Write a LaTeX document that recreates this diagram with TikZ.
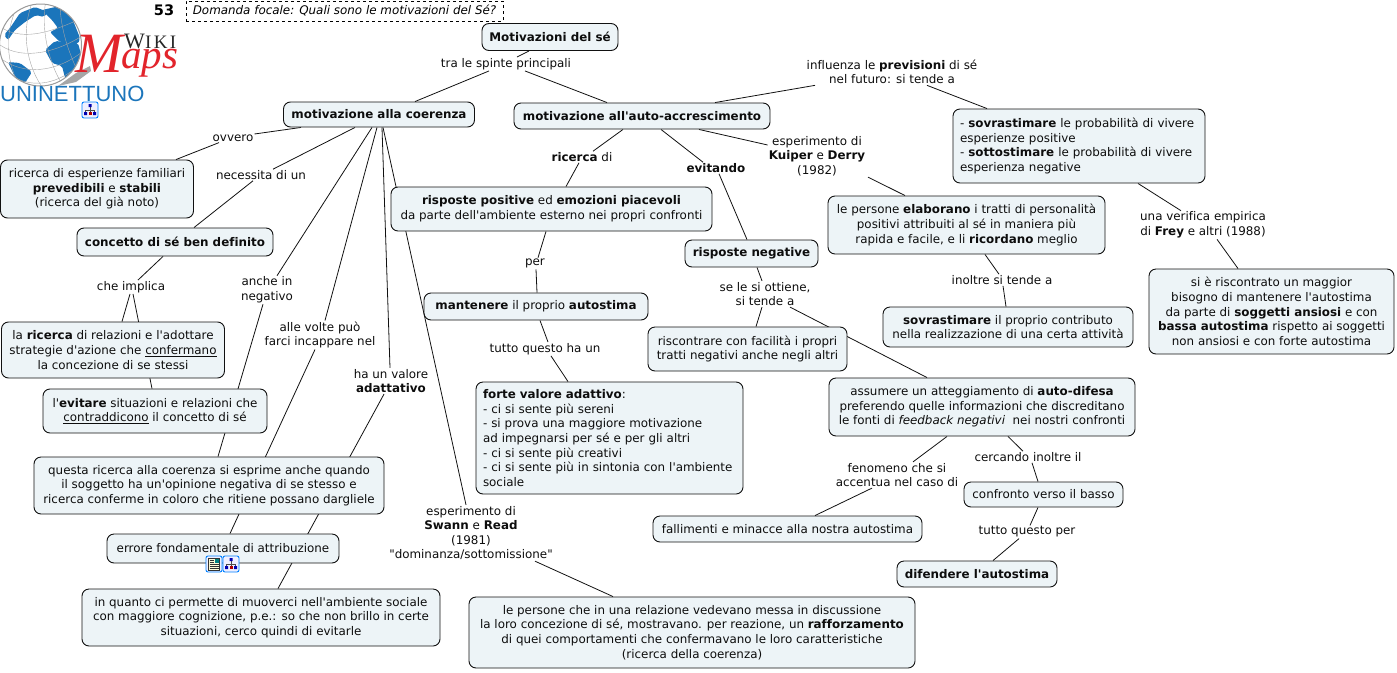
\documentclass[tikz,border=0pt]{standalone}
\usepackage{fontspec}
\setmainfont{DejaVu Sans}[Ligatures={TeXOff,NoCommon}]
\newfontfamily\logoserif{Liberation Serif}
\newfontfamily\logosans{Liberation Sans}
\usetikzlibrary{backgrounds,arrows.meta}
\definecolor{boxfill}{HTML}{EDF4F7}
\definecolor{boxline}{HTML}{111111}
\definecolor{logoblue}{HTML}{1B75BB}
\definecolor{logored}{HTML}{E2242B}
\tikzset{
	concept/.style={draw=boxline, fill=boxfill, line width=0.9pt, rounded corners=7pt, align=center, inner sep=2pt,
		font=\fontsize{11.9}{14.6}\selectfont, text=black!95},
	conceptleft/.style={concept, align=left, inner xsep=7pt},
	linklabel/.style={align=center, inner sep=1pt, font=\fontsize{11.9}{14.6}\selectfont, text=black!95},
	link/.style={draw=boxline, line width=0.8pt},
	treeicon/.pic={
		\draw[draw=blue!50!cyan, fill=blue!6, line width=0.9pt, rounded corners=2pt] (-8,-8) rectangle (8,8);
		\draw[black!70, line width=0.5pt] (0,-3) -- (0,0) (-4.5,2) -- (-4.5,0) -- (4.5,0) -- (4.5,2) (0,0) -- (0,2);
		\fill[blue!70!black] (-1.5,-6) rectangle (1.5,-3) (-6,2) rectangle (-3,5) (3,2) rectangle (6,5);
		\fill[red!70!black] (-1.5,2) rectangle (1.5,5);
	},
	sheeticon/.pic={
		\draw[draw=blue!50!cyan, fill=blue!6, line width=0.9pt, rounded corners=2pt] (-8,-8) rectangle (8,8);
		\draw[black!80, fill=yellow!15, line width=0.5pt] (-5.5,-6) rectangle (5.5,6);
		\fill[blue!50!green] (0.5,-5) rectangle (4.5,-1);
		\draw[black!80, line width=0.6pt] (-4.5,-4) -- (-0.5,-4) (-4.5,-2) -- (-0.5,-2) (-4.5,0) -- (4.5,0) (-4.5,2) -- (4.5,2) (-4.5,4) -- (4.5,4);
	}
}
\begin{document}
\begin{tikzpicture}[x=1pt, y=-1pt]
	\useasboundingbox (0,0) rectangle (1397,672);

	% Logo
	\fill[black!35] (58,86) -- (76,73) -- (90,66) -- (91,71) -- (76,82) -- cycle;
	\begin{scope}
		\clip (40.5,45) circle (41);
		\fill[white] (0,0) rectangle (82,88);
		\fill[logoblue, rounded corners=2pt] (10,28) -- (20,13) -- (35,7) -- (48,12) -- (44,17) -- (36,15) -- (25,22) -- (15,30) -- (8,40) -- (4,35) -- cycle;
		\fill[logoblue, rounded corners=2pt] (42,10) -- (60,6) -- (72,18) -- (80,38) -- (78,44) -- (60,42) -- (50,32) -- (58,28) -- (52,20) -- cycle;
		\fill[logoblue, rounded corners=2pt] (45,50) -- (55,41) -- (78,43) -- (82,58) -- (72,72) -- (65,78) -- (62,66) -- (52,63) -- cycle;
		\fill[logoblue, rounded corners=2pt] (8,62) -- (20,63) -- (32,72) -- (25,83) -- (15,77) -- cycle;
		\draw[black!35, line width=0.4pt] (22,-2) .. controls (2,30) and (6,65) .. (22,90) (34,-2) .. controls (20,30) and (26,65) .. (44,90) (46,0) .. controls (40,30) and (50,65) .. (62,84) (60,2) .. controls (60,30) and (70,55) .. (78,72);
		\draw[black!35, line width=0.4pt] (2,28) .. controls (25,42) and (55,30) .. (78,20) (0,45) .. controls (25,62) and (60,50) .. (82,36) (3,60) .. controls (30,78) and (62,68) .. (82,52) (12,76) .. controls (35,90) and (60,82) .. (78,66);
	\end{scope}
	\draw[black!40, line width=1pt] (40.5,45) circle (41);
	\node[inner sep=0pt, anchor=base west, text=logored, font=\logoserif\itshape\fontsize{57}{57}\selectfont] (logoM) at (75,72) {M};
	\node[inner sep=0pt, anchor=base west, text=logored, font=\logoserif\itshape\fontsize{41}{41}\selectfont] (logoaps) at (121,68) {aps};
	\node[inner sep=0pt, anchor=base west, text=black!85, font=\logoserif\fontsize{22}{22}\selectfont] (logoW) at (124,48) {W};
	\node[inner sep=0pt, anchor=base west, text=black!85, font=\logoserif\addfontfeature{LetterSpace=12}\fontsize{19}{19}\selectfont] (logoiki) at (145,48) {IKI};
	\node[inner sep=0pt, anchor=base west, text=logoblue, font=\logosans\fontsize{22}{22}\selectfont] (logouni) at (0,101) {UNINETTUNO};
	\pic at (90,110) {treeicon};

	% Title
	\node[inner sep=0pt, font=\bfseries\fontsize{14.5}{16}\selectfont] (number) at (164,10) {53};
	\node[draw, dashed, line width=0.7pt, minimum width=317pt, minimum height=20pt, inner sep=0pt, font=\itshape\fontsize{11.9}{14.6}\selectfont] (focal) at (344.5,11) {Domanda focale: Quali sono le motivazioni del Sé?};

	% Concepts
	\node[concept, minimum width=136pt, minimum height=27pt] (root) at (550,37) {\textbf{Motivazioni del sé}};
	\node[concept, minimum width=191pt, minimum height=25pt] (coerenza) at (379,114.5) {\textbf{motivazione alla coerenza}};
	\node[concept, minimum width=256pt, minimum height=26pt] (accresc) at (642,116) {\textbf{motivazione all'auto-accrescimento}};
	\node[conceptleft, text width=238pt, minimum height=74pt] (sovrastima) at (1079,146) {- \textbf{sovrastimare} le probabilità di vivere\\esperienze positive\\- \textbf{sottostimare} le probabilità di vivere\\esperienza negative};
	\node[concept, minimum width=245pt, minimum height=85pt] (ansiosi) at (1271.5,311.5) {si è riscontrato un maggior\\bisogno di mantenere l'autostima\\da parte di \textbf{soggetti ansiosi} e con\\\textbf{bassa autostima} rispetto ai soggetti\\non ansiosi e con forte autostima};
	\node[concept, minimum width=193pt, minimum height=58pt] (familiari) at (97,189) {ricerca di esperienze familiari\\\textbf{prevedibili} e \textbf{stabili}\\(ricerca del già noto)};
	\node[concept, minimum width=196pt, minimum height=28pt] (definito) at (175,242) {\textbf{concetto di sé ben definito}};
	\node[concept, minimum width=223pt, minimum height=56pt] (conferma) at (113,350) {la \textbf{ricerca} di relazioni e l'adottare\\strategie d'azione che \underline{confermano}\\la concezione di se stessi};
	\node[concept, minimum width=224pt, minimum height=44pt] (evita) at (155,411) {l'\textbf{evitare} situazioni e relazioni che\\\underline{contraddicono} il concetto di sé};
	\node[concept, minimum width=350pt, minimum height=57pt] (opinione) at (209,485.5) {questa ricerca alla coerenza si esprime anche quando\\il soggetto ha un'opinione negativa di se stesso e\\ricerca conferme in coloro che ritiene possano dargliele};
	\node[concept, minimum width=232pt, minimum height=29pt] (errore) at (223,548.5) {errore fondamentale di attribuzione};
	\node[concept, minimum width=358pt, minimum height=57pt] (sociale) at (261,617.5) {in quanto ci permette di muoverci nell'ambiente sociale\\con maggiore cognizione, p.e.: so che non brillo in certe\\situazioni, cerco quindi di evitarle};
	\node[concept, minimum width=321pt, minimum height=44pt] (positive) at (551.5,209) {\textbf{risposte positive} ed \textbf{emozioni piacevoli}\\da parte dell'ambiente esterno nei propri confronti};
	\node[concept, minimum width=277pt, minimum height=58pt] (elabora) at (966.5,225) {le persone \textbf{elaborano} i tratti di personalità\\positivi attribuiti al sé in maniera più\\rapida e facile, e li \textbf{ricordano} meglio};
	\node[concept, minimum width=224pt, minimum height=27pt] (autostima) at (536,306.5) {\textbf{mantenere} il proprio \textbf{autostima}};
	\node[conceptleft, text width=253pt, minimum height=112pt] (adattivo) at (609.5,438) {\textbf{forte valore adattivo}:\\- ci si sente più sereni\\- si prova una maggiore motivazione\\ad impegnarsi per sé e per gli altri\\- ci si sente più creativi\\- ci si sente più in sintonia con l'ambiente\\sociale};
	\node[concept, minimum width=133pt, minimum height=27pt] (negative) at (751.5,253.5) {\textbf{risposte negative}};
	\node[concept, minimum width=199pt, minimum height=44pt] (tratti) at (747.5,349) {riscontrare con facilità i propri\\tratti negativi anche negli altri};
	\node[concept, minimum width=306pt, minimum height=58pt] (difesa) at (982,407) {assumere un atteggiamento di \textbf{auto-difesa}\\preferendo quelle informazioni che discreditano\\le fonti di \textit{feedback negativi}~ nei nostri confronti};
	\node[concept, minimum width=250pt, minimum height=40pt] (contributo) at (1008,327) {\textbf{sovrastimare} il proprio contributo\\nella realizzazione di una certa attività};
	\node[concept, minimum width=159pt, minimum height=25pt] (basso) at (1043.5,494.5) {confronto verso il basso};
	\node[concept, minimum width=269pt, minimum height=26pt] (minacce) at (787.5,529) {fallimenti e minacce alla nostra autostima};
	\node[concept, minimum width=160pt, minimum height=26pt] (difendere) at (977,574) {\textbf{difendere l'autostima}};
	\node[concept, minimum width=446pt, minimum height=71pt] (rafforza) at (692,632.5) {le persone che in una relazione vedevano messa in discussione\\la loro concezione di sé, mostravano. per reazione, un \textbf{rafforzamento}\\di quei comportamenti che confermavano le loro caratteristiche\\(ricerca della coerenza)};

	% Icons
	\pic at (214,564) {sheeticon};
	\pic at (231,564) {treeicon};

	% Link labels
	\node[linklabel] (spinte) at (506,64) {tra le spinte principali};
	\node[linklabel] (previsioni) at (892,72) {influenza le \textbf{previsioni} di sé\\nel futuro: si tende a};
	\node[linklabel] (frey) at (1203,225) {una verifica empirica\\di \textbf{Frey} e altri (1988)};
	\node[linklabel] (ovvero) at (233,138) {ovvero};
	\node[linklabel] (necessita) at (261,175) {necessita di un};
	\node[linklabel] (implica) at (131,287) {che implica};
	\node[linklabel] (inneg) at (267,290) {anche in\\negativo};
	\node[linklabel] (allevolte) at (320,335) {alle volte può\\farci incappare nel};
	\node[linklabel] (haun) at (391,381) {ha un valore\\\textbf{adattativo}};
	\node[linklabel] (swann) at (471,533) {esperimento di\\\textbf{Swann} e \textbf{Read}\\(1981)\\"dominanza/sottomissione"};
	\node[linklabel] (ricercadi) at (582,157) {\textbf{ricerca} di};
	\node[linklabel] (evitando) at (716,168) {\textbf{evitando}};
	\node[linklabel] (kuiper) at (817,156) {esperimento di\\\textbf{Kuiper} e \textbf{Derry}\\(1982)};
	\node[linklabel] (per) at (535,263.5) {per};
	\node[linklabel] (tuttoun) at (545,349) {tutto questo ha un};
	\node[linklabel] (setende) at (765,294) {se le si ottiene,\\si tende a};
	\node[linklabel] (inoltre) at (1002,280) {inoltre si tende a};
	\node[linklabel] (fenomeno) at (897,475) {fenomeno che si\\accentua nel caso di};
	\node[linklabel] (cercando) at (1028,457) {cercando inoltre il};
	\node[linklabel] (tuttoper) at (1027,532) {tutto questo per};

	% Connectors
	\begin{scope}[on background layer]
		\draw[link] ([xshift=-21pt]root.south) -- ([xshift=11pt]spinte.north);
		\draw[link] ([xshift=-17pt]spinte.south) -- ([xshift=36pt]coerenza.north);
		\draw[link] ([xshift=19pt]spinte.south) -- ([xshift=-35pt]accresc.north);
		\draw[link] ([xshift=73pt]accresc.north) -- ([xshift=-77pt]previsioni.south);
		\draw[link] ([xshift=35pt]previsioni.south) -- ([xshift=-92pt]sovrastima.north);
		\draw[link] ([xshift=59pt]sovrastima.south) -- ([xshift=-22pt]frey.north);
		\draw[link] ([xshift=14pt]frey.south) -- ([xshift=-33.5pt]ansiosi.north);
		\draw[link] ([xshift=-78pt]coerenza.south) -- ([yshift=4pt]ovvero.east);
		\draw[link] ([xshift=-14pt]ovvero.south) -- ([xshift=79pt]familiari.north);
		\draw[link] ([xshift=-24pt]coerenza.south) -- ([xshift=12pt]necessita.north);
		\draw[link] ([xshift=-8pt]necessita.south) -- ([xshift=19pt]definito.north);
		\draw[link] ([xshift=-12pt]definito.south) -- ([xshift=7pt]implica.north);
		\draw[link] ([xshift=-1pt]implica.south) -- ([xshift=9pt]conferma.north);
		\draw[link] ([xshift=2pt]implica.south) -- ([xshift=-3pt]evita.north);
		\draw[link] ([xshift=-7pt]coerenza.south) -- ([xshift=10pt]inneg.north);
		\draw[link] ([xshift=-4pt]inneg.south) -- ([xshift=9pt]opinione.north);
		\draw[link] ([xshift=-2pt]coerenza.south) -- ([xshift=5pt]allevolte.north);
		\draw[link] ([xshift=-5pt]allevolte.south) -- ([xshift=7pt]errore.north);
		\draw[link] ([xshift=3pt]coerenza.south) -- ([xshift=-1pt]haun.north);
		\draw[link] ([xshift=-7pt]haun.south) -- ([xshift=17pt]sociale.north);
		\draw[link] ([xshift=4pt]coerenza.south) -- ([xshift=-5pt]swann.north);
		\draw[link] ([xshift=64pt]swann.south) -- ([xshift=-79pt]rafforza.north);
		\draw[link] ([xshift=-19pt]accresc.south) -- ([xshift=11pt]ricercadi.north);
		\draw[link] ([xshift=-3pt]ricercadi.south) -- ([xshift=14.5pt]positive.north);
		\draw[link] ([xshift=19pt]accresc.south) -- ([xshift=-13pt]evitando.north);
		\draw[link] ([xshift=3pt]evitando.south) -- ([xshift=-4.5pt]negative.north);
		\draw[link] ([xshift=57pt]accresc.south) -- ([yshift=11pt]kuiper.west);
		\draw[link] ([xshift=51pt]kuiper.south) -- ([xshift=-61.5pt]elabora.north);
		\draw[link] ([xshift=-5.5pt]positive.south) -- ([xshift=3pt]per.north);
		\draw[link] ([xshift=1pt]per.south) -- ([xshift=1pt]autostima.north);
		\draw[link] ([xshift=4pt]autostima.south) -- ([xshift=3pt]tuttoun.north);
		\draw[link] ([xshift=6pt]tuttoun.south) -- ([xshift=-41.5pt]adattivo.north);
		\draw[link] ([xshift=5.5pt]negative.south) -- ([xshift=-3pt]setende.north);
		\draw[link] ([xshift=-3pt]setende.south) -- ([xshift=8.5pt]tratti.north);
		\draw[link] ([xshift=25pt]setende.south) -- ([xshift=-55pt]difesa.north);
		\draw[link] ([xshift=18.5pt]elabora.south) -- ([xshift=-3pt]inoltre.north);
		\draw[link] ([xshift=1pt]inoltre.south) -- ([xshift=-2pt]contributo.north);
		\draw[link] ([xshift=-35pt]difesa.south) -- ([xshift=16pt]fenomeno.north);
		\draw[link] ([xshift=-25pt]fenomeno.south) -- ([xshift=27.5pt]minacce.north);
		\draw[link] ([xshift=26pt]difesa.south) -- ([xshift=-5pt]cercando.north);
		\draw[link] ([xshift=4pt]cercando.south) -- ([xshift=-5.5pt]basso.north);
		\draw[link] ([xshift=-5.5pt]basso.south) -- ([xshift=3pt]tuttoper.north);
		\draw[link] ([xshift=-8pt]tuttoper.south) -- ([xshift=16pt]difendere.north);
	\end{scope}
\end{tikzpicture}
\end{document}
